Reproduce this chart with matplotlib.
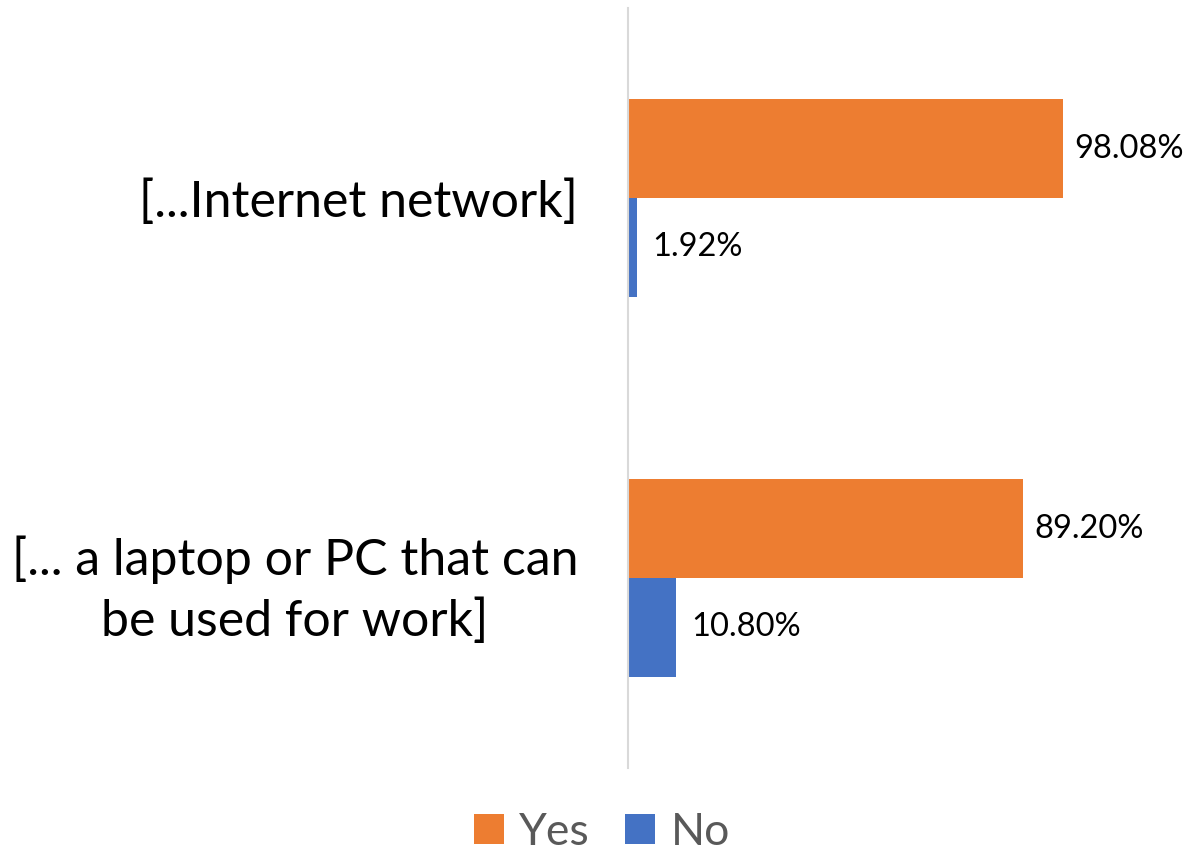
import matplotlib.pyplot as plt
import numpy as np

categories = ["[...Internet network]", "[... a laptop or PC that can\nbe used for work]"]
yes_vals = [98.08, 89.20]
no_vals = [1.92, 10.80]

plt.rcParams['font.family'] = ['Lato', 'DejaVu Sans']

fig = plt.figure(figsize=(12.04, 8.55), dpi=100)
ax = fig.add_axes([628 / 1204, 87 / 855, 532 / 1204, 760 / 855])

y = np.arange(len(categories))
h = 0.26
b_yes = ax.barh(y - h / 2, yes_vals, height=h, color='#ED7D31', label='Yes')
b_no = ax.barh(y + h / 2, no_vals, height=h, color='#4472C4', label='No')

ax.bar_label(b_yes, labels=[f"{v:.2f}%" for v in yes_vals], padding=8, fontsize=23.5, color='#000000')
ax.bar_label(b_no, labels=[f"{v:.2f}%" for v in no_vals], padding=11, fontsize=23.5, color='#000000')

ax.set_xlim(0, 120)
ax.set_ylim(1.5, -0.5)
ax.set_yticks(y)
ax.set_yticklabels(categories, fontsize=36, linespacing=1.4, multialignment='center')
ax.tick_params(axis='y', length=0, pad=36)
ax.set_xticks([])
for s in ['top', 'right', 'bottom']:
    ax.spines[s].set_visible(False)
ax.spines['left'].set_color('#D9D9D9')
ax.spines['left'].set_linewidth(1.5)

fig.legend(handles=[b_yes, b_no], loc='center', bbox_to_anchor=(0.5, 20 / 855 + 0.003),
           ncol=2, frameon=False, fontsize=32, handlelength=0.67, handleheight=0.67,
           handletextpad=0.35, columnspacing=0.8, labelcolor='#595959')

fig.savefig('out.png', dpi=100)
